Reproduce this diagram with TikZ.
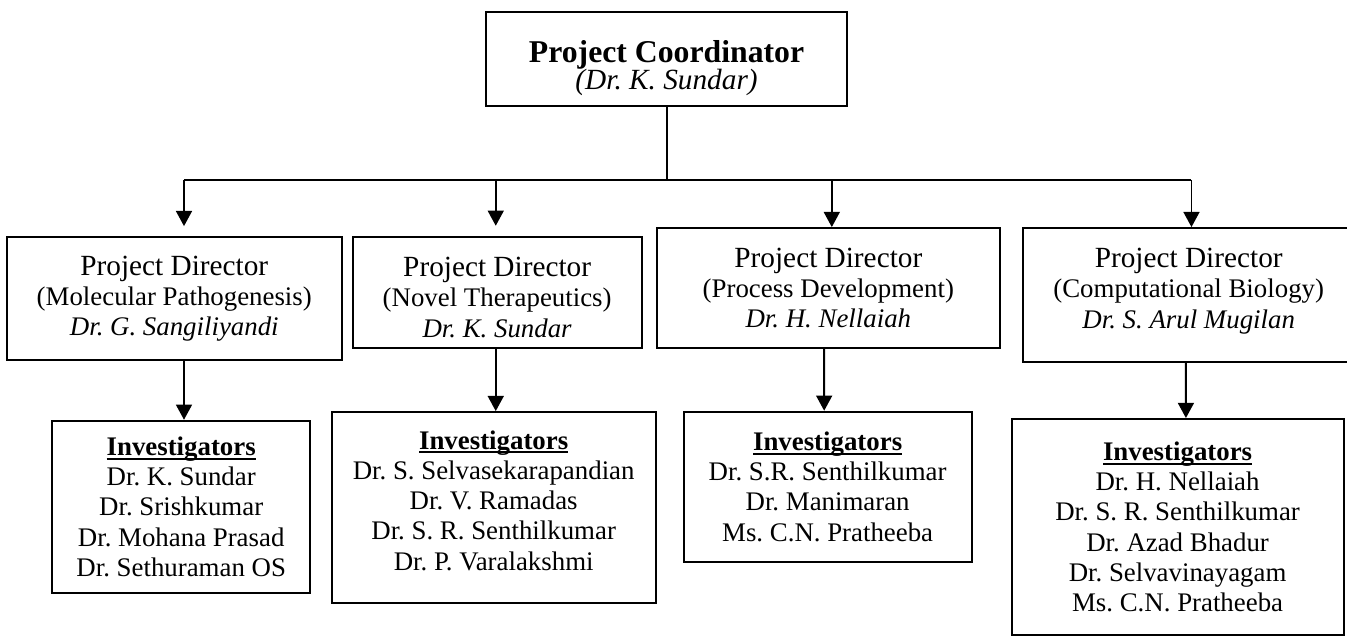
\documentclass[tikz,border=0pt]{standalone}
\usepackage{fontspec}
\setmainfont{Liberation Serif}
\usepackage{tikz}
\usetikzlibrary{arrows.meta,positioning,calc}
\newsavebox{\headbox}
\newcommand{\invhead}{\sbox{\headbox}{\textbf{Investigators}}%
  \rlap{\rule[-1.7pt]{\wd\headbox}{0.75pt}}\usebox{\headbox}}

\begin{document}
\frenchspacing
\begin{tikzpicture}[
  coordbox/.style={draw, line width=0.8pt, align=center, inner sep=2pt,
                   minimum width=5.2cm, minimum height=1.35cm},
  pdbox/.style={draw, line width=0.8pt, align=center, inner sep=2pt,
                font=\fontsize{11}{12.4}\selectfont},
  invbox/.style={draw, line width=0.8pt, align=center, inner sep=2pt,
                 font=\fontsize{11}{12.4}\selectfont},
  arr/.style={-{Triangle[length=6.2pt,width=6.5pt]}, line width=0.8pt}
]
\useasboundingbox (0,0) rectangle (19.40,9.16);
\clip (0,0) rectangle (19.40,9.16);

\node[coordbox] (coord) at (9.60,8.31)
  {\rule{0pt}{16.3pt}{\fontsize{13}{13}\selectfont\bfseries Project Coordinator}\\[-1pt]
   {\fontsize{12}{12}\selectfont\itshape (Dr. K. Sundar)}};

\node[pdbox, minimum width=4.82cm, minimum height=1.77cm] (pd1) at (2.51,4.86)
  {{\fontsize{12}{12}\selectfont Project Director}\\(Molecular Pathogenesis)\\
   \textit{Dr. G. Sangiliyandi}};
\node[pdbox, minimum width=4.16cm, minimum height=1.60cm] (pd2) at (7.16,4.95)
  {\rule{0pt}{12.2pt}{\fontsize{12}{12}\selectfont Project Director}\\(Novel Therapeutics)\\
   \textit{Dr. K. Sundar}};
\node[pdbox, minimum width=4.94cm, minimum height=1.73cm] (pd3) at (11.93,5.01)
  {{\fontsize{12}{12}\selectfont Project Director}\\(Process Development)\\
   \textit{Dr. H. Nellaiah}};
\node[pdbox, minimum width=4.78cm, minimum height=1.93cm] (pd4) at (17.12,4.91)
  {{\fontsize{12}{12}\selectfont Project Director}\\(Computational Biology)\\
   \textit{Dr. S. Arul Mugilan}\rule[-5.7pt]{0pt}{5.7pt}};

\node[invbox, minimum width=3.72cm, minimum height=2.48cm] (inv1) at (2.61,1.86)
  {\invhead\\Dr. K. Sundar\\Dr. Srishkumar\\
   Dr. Mohana Prasad\\Dr. Sethuraman OS};
\node[invbox, minimum width=4.67cm, minimum height=2.75cm] (inv2) at (7.11,1.85)
  {\invhead\\Dr. S. Selvasekarapandian\\Dr. V. Ramadas\\
   Dr. S. R. Senthilkumar\\Dr. P. Varalakshmi\rule[-6pt]{0pt}{6pt}};
\node[invbox, minimum width=4.15cm, minimum height=2.16cm] (inv3) at (11.92,2.15)
  {\invhead\\Dr. S.R. Senthilkumar\\Dr. Manimaran\\
   Ms. C.N. Pratheeba};
\node[invbox, minimum width=4.78cm, minimum height=3.11cm] (inv4) at (16.96,1.57)
  {\invhead\\Dr. H. Nellaiah\\Dr. S. R. Senthilkumar\\
   Dr. Azad Bhadur\\Dr. Selvavinayagam\\Ms. C.N. Pratheeba};

\coordinate (b1) at (2.65,6.57);
\coordinate (b2) at (7.14,6.57);
\coordinate (b3) at (11.98,6.57);
\coordinate (b4) at (17.16,6.57);

\draw[line width=0.8pt] (coord.south) -- (coord.south |- b1);
\draw[line width=0.8pt] (b1) -- (b4);
\draw[arr, shorten >=0.144cm] (b1) -- (b1 |- pd1.north);
\draw[arr, shorten >=0.144cm] (b2) -- (b2 |- pd2.north);
\draw[arr] (b3) -- (b3 |- pd3.north);
\draw[arr] (b4) -- (b4 |- pd4.north);

\draw[arr] (pd1.south -| b1) -- (inv1.north -| b1);
\draw[arr] (pd2.south -| b2) -- (inv2.north -| b2);
\draw[arr] ($(pd3.south)+(-0.06,0)$) -- ($(inv3.north)+(-0.05,0)$);
\draw[arr] ($(pd4.south)+(-0.04,0)$) -- ($(inv4.north)+(0.12,0)$);
\end{tikzpicture}
\end{document}
